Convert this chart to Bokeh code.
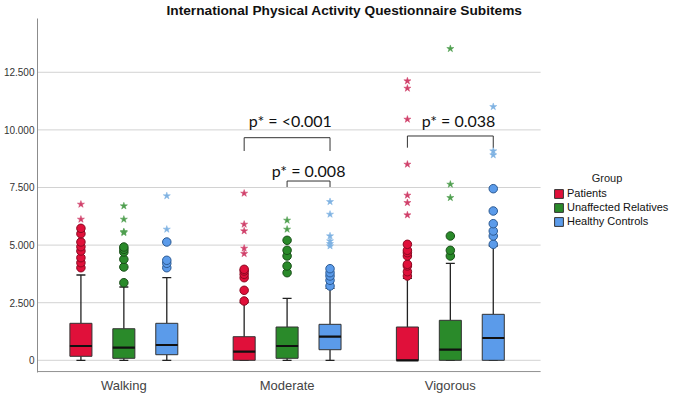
from bokeh.plotting import figure
from bokeh.models import (Range1d, FixedTicker, ColumnDataSource, Legend, LegendItem)
from bokeh.core.properties import value
from bokeh.embed import file_html
from bokeh.resources import INLINE

# ---------------- data ----------------
categories = ["Walking", "Moderate", "Vigorous"]
groups = ["Patients", "Unaffected Relatives", "Healthy Controls"]
legend_title = "Group"

y_ticks = [0, 2500, 5000, 7500, 10000, 12500]
y_tick_labels = ["0", "2.500", "5.000", "7.500", "10.000", "12.500"]

patients_q1 = [174, 0, 0]
patients_med = [620, 375, 0]
patients_q3 = [1606, 1025, 1445]
patients_lo = [0, 0, 0]
patients_hi = [3702, 2500, 3559]

relatives_q1 = [87, 87, 0]
relatives_med = [547, 620, 460]
relatives_q3 = [1371, 1445, 1736]
relatives_lo = [0, 0, 0]
relatives_hi = [3181, 2691, 4210]

controls_q1 = [243, 460, 0]
controls_med = [664, 1025, 968]
controls_q3 = [1606, 1562, 1996]
controls_lo = [0, 0, 0]
controls_hi = [3585, 3125, 4961]

patients_circles = [[4019, 4236, 4453, 4744, 4930, 5134, 5494, 5728],
                    [2574, 3038, 3585, 3732, 3875, 3949],
                    [3659, 3845, 4093, 4166, 4527, 4670, 4774, 5034]]
patients_stars = [[6119, 6770],
                  [4627, 4861, 5612, 5902, 7248],
                  [6306, 6840, 7161, 8506, 10459, 11804, 12121]]
relatives_circles = [[3368, 4049, 4383, 4700, 4817, 4917],
                     [3802, 4093, 4527, 4774, 5208],
                     [4527, 4774, 5395]]
relatives_stars = [[5538, 5580, 6119, 6697],
                   [5685, 6076],
                   [7057, 7638, 13524]]
controls_circles = [[4019, 4210, 4340, 5134],
                    [3225, 3472, 3659, 3802, 3975],
                    [5034, 5395, 5612, 5928, 6480, 7448]]
controls_stars = [[5685, 7135],
                  [4961, 5060, 5178, 5395, 6336, 6883],
                  [8910, 9084, 11006]]

# significance brackets
bracket_cat = [1, 1, 2]
bracket_from = [0, 1, 0]
bracket_to = [2, 2, 2]
bracket_top = [9661, 7781, 9735]
bracket_bottom = [9084, 7521, 9227]
bracket_label = ["p* = <0.001", "p* = 0.008", "p* = 0.038"]
bracket_label_y = [10416, 8246, 10429]
bracket_label_shift = [0.02, 0.0, 0.05]

# ---------------- styles / layout ----------------
fill_colors = ["#e0103a", "#2a8a2a", "#5b9bea"]
edge_colors = ["#8a0a22", "#1a4f1a", "#2c5a92"]
star_colors = ["#d0406a", "#4f9f4f", "#7fb2e2"]
dodge = 0.263
box_w = 0.135
cap_w = 0.055

X_START, X_PLOT_END, X_END = -0.529, 2.553, 3.361
Y_START, Y_AXIS, Y_END = -529, -490, 14834
LEGEND_TITLE_X, LEGEND_TITLE_Y = 2.96, 7900

stats = [
    (patients_q1, patients_med, patients_q3, patients_lo, patients_hi, patients_circles, patients_stars),
    (relatives_q1, relatives_med, relatives_q3, relatives_lo, relatives_hi, relatives_circles, relatives_stars),
    (controls_q1, controls_med, controls_q3, controls_lo, controls_hi, controls_circles, controls_stars),
]

p = figure(frame_width=635, frame_height=354,
           x_range=Range1d(X_START, X_END), y_range=Range1d(Y_START, Y_END),
           output_backend="svg", toolbar_location=None,
           min_border_left=33, min_border_right=0, min_border_bottom=0, min_border_top=0)

p.title.text = "International Physical Activity Questionnaire Subitems"
p.title.text_font = "Liberation Sans"
p.title.text_font_style = "bold"
p.title.text_font_size = "13.7px"
p.title.align = "left"
p.title.offset = 129
p.title.standoff = 1
p.title.text_color = "#111111"

p.background_fill_color = "white"
p.border_fill_color = "white"
p.outline_line_color = None

# horizontal gridlines only over the plotting region
p.xgrid.grid_line_color = None
p.ygrid.grid_line_color = None
for t in y_ticks:
    p.segment(x0=[X_START], y0=[t], x1=[X_PLOT_END], y1=[t], line_color="#d2d2d2", line_width=1)

p.yaxis.ticker = FixedTicker(ticks=y_ticks)
p.yaxis.major_label_overrides = {t: l for t, l in zip(y_ticks, y_tick_labels)}
p.yaxis.major_label_text_font = "Liberation Sans"
p.yaxis.major_label_text_font_size = "10px"
p.yaxis.major_label_text_color = "#333333"
p.yaxis.major_tick_line_color = None
p.yaxis.major_tick_out = 0
p.yaxis.major_tick_in = 0
p.yaxis.minor_tick_line_color = None
p.yaxis.axis_line_color = "#8c8c8c"
p.yaxis.major_label_standoff = 3

p.xaxis.ticker = FixedTicker(ticks=list(range(len(categories))))
p.xaxis.major_label_overrides = {i: c for i, c in enumerate(categories)}
p.xaxis.major_label_text_font = "Liberation Sans"
p.xaxis.major_label_text_font_size = "13px"
p.xaxis.major_label_text_color = "#444444"
p.xaxis.major_tick_line_color = None
p.xaxis.major_tick_out = 0
p.xaxis.major_tick_in = 0
p.xaxis.minor_tick_line_color = None
p.xaxis.axis_line_color = None
p.xaxis.major_label_standoff = 5
p.segment(x0=[X_START], y0=[Y_AXIS], x1=[X_PLOT_END], y1=[Y_AXIS], line_color="#8c8c8c", line_width=1)

legend_items = []
for gi, (q1, med, q3, lo, hi, circ, stars) in enumerate(stats):
    off = (gi - 1) * dodge
    xs = [i + off for i in range(len(categories))]
    src = ColumnDataSource(dict(x=xs, q1=q1, med=med, q3=q3, lo=lo, hi=hi,
                                cl=[x - cap_w / 2 for x in xs], cr=[x + cap_w / 2 for x in xs],
                                bl=[x - box_w / 2 for x in xs], br=[x + box_w / 2 for x in xs]))
    p.segment(x0="x", y0="q3", x1="x", y1="hi", source=src, line_color="#222222", line_width=1.3)
    p.segment(x0="x", y0="lo", x1="x", y1="q1", source=src, line_color="#222222", line_width=1.3)
    p.segment(x0="cl", y0="hi", x1="cr", y1="hi", source=src, line_color="#222222", line_width=1.3)
    p.segment(x0="cl", y0="lo", x1="cr", y1="lo", source=src, line_color="#222222", line_width=1.3)
    r = p.vbar(x="x", width=box_w, top="q3", bottom="q1", source=src,
               fill_color=fill_colors[gi], line_color="#333333", line_width=1)
    p.segment(x0="bl", y0="med", x1="br", y1="med", source=src, line_color="#111111", line_width=2.2)
    legend_items.append(LegendItem(label=groups[gi], renderers=[r]))
    cx, cy, sx, sy = [], [], [], []
    for ci in range(len(categories)):
        cx += [ci + off] * len(circ[ci])
        cy += circ[ci]
        sx += [ci + off] * len(stars[ci])
        sy += stars[ci]
    p.scatter(cx, cy, marker="circle", size=8.5, fill_color=fill_colors[gi],
              line_color=edge_colors[gi], line_width=1)
    p.scatter(sx, sy, marker="star", size=7.5, fill_color=star_colors[gi],
              line_color=star_colors[gi], line_width=0.5)

for bi in range(len(bracket_cat)):
    x0 = bracket_cat[bi] + (bracket_from[bi] - 1) * dodge
    x1 = bracket_cat[bi] + (bracket_to[bi] - 1) * dodge
    p.line([x0, x0, x1, x1], [bracket_bottom[bi], bracket_top[bi], bracket_top[bi], bracket_bottom[bi]],
           line_color="#333333", line_width=1)
    p.text(x=[(x0 + x1) / 2 + bracket_label_shift[bi]], y=[bracket_label_y[bi]], text=[bracket_label[bi]],
           text_font=value("Lato"), text_font_size="16px", text_color="#111111",
           text_align="center", text_baseline="middle")

# legend (title centred above the entries, as in the reference)
p.text(x=[LEGEND_TITLE_X], y=[LEGEND_TITLE_Y], text=[legend_title],
       text_font=value("Liberation Sans"), text_font_size="11px", text_color="#222222",
       text_align="center", text_baseline="middle")

legend = Legend(items=legend_items, location=(516, 145))
legend.label_text_font = "Liberation Sans"
legend.label_text_font_size = "11px"
legend.label_text_color = "#111111"
legend.glyph_width = 11
legend.glyph_height = 11
legend.label_height = 12
legend.label_standoff = 3
legend.spacing = 2
legend.padding = 6
legend.margin = 0
legend.border_line_color = None
legend.background_fill_alpha = 0
p.add_layout(legend, "center")

open("out.html", "w").write(file_html(p, INLINE))
